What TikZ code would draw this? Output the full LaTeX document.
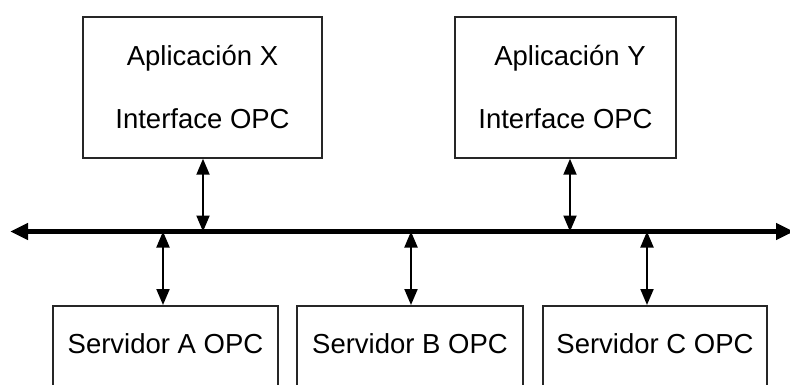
\documentclass[tikz,border=0pt]{standalone}
\usepackage{fontspec}
\setmainfont{Liberation Sans}
\usetikzlibrary{arrows.meta,positioning}

\tikzset{
  appbox/.style={draw=black!85, line width=1.5pt, minimum width=#1, minimum height=141pt, inner sep=0pt, align=center, font=\fontsize{27.5}{63}\selectfont},
  srvbox/.style={draw=black!85, line width=1.5pt, minimum width=#1, minimum height=100pt, inner sep=0pt, anchor=north},
  srvtext/.style={inner sep=0pt, font=\fontsize{27.5}{33}\selectfont},
  bus/.style={line width=5.5pt, {Triangle[length=18pt,width=16pt]}-{Triangle[length=18pt,width=16pt]}},
  link/.style={line width=2pt, {Triangle[length=16pt,width=13pt]}-{Triangle[length=16pt,width=13pt]}}
}

\begin{document}
\begin{tikzpicture}[x=1pt,y=-1pt]
  \useasboundingbox (0,0) rectangle (790,385);

  % Add application boxes
  \node[appbox=239pt] (appX) at (202.5,87.5) {Aplicación X\\Interface OPC};
  \node[appbox=221pt] (appY) at (565.5,87.5) {\hspace*{9pt}Aplicación Y\\Interface OPC};

  % Add server boxes (cut by the lower edge)
  \node[srvbox=225pt] (srvA) at (165.5,305) {};
  \node[srvbox=226pt] (srvB) at (410,305) {};
  \node[srvbox=224pt] (srvC) at (655,305) {};
  \node[srvtext, below=28pt of srvA.north] {Servidor A OPC};
  \node[srvtext, below=28pt of srvB.north] {Servidor B OPC};
  \node[srvtext, below=28pt of srvC.north] {Servidor C OPC};

  % Draw the bus
  \coordinate (busL) at (10,231.5);
  \coordinate (busR) at (794,231.5);
  \draw[bus] (busL) -- (busR);

  % Add taps on the bus
  \coordinate (tapX) at (203,231.5);
  \coordinate (tapY) at (570,231.5);
  \coordinate (tapA) at (163,231.5);
  \coordinate (tapB) at (411,231.5);
  \coordinate (tapC) at (647,231.5);

  % Add arrows between boxes and bus
  \draw[link] (tapX |- appX.south) -- (tapX);
  \draw[link] (tapY |- appY.south) -- (tapY);
  \draw[link] (tapA) -- (tapA |- srvA.north);
  \draw[link] (tapB) -- (tapB |- srvB.north);
  \draw[link] (tapC) -- (tapC |- srvC.north);
\end{tikzpicture}
\end{document}
